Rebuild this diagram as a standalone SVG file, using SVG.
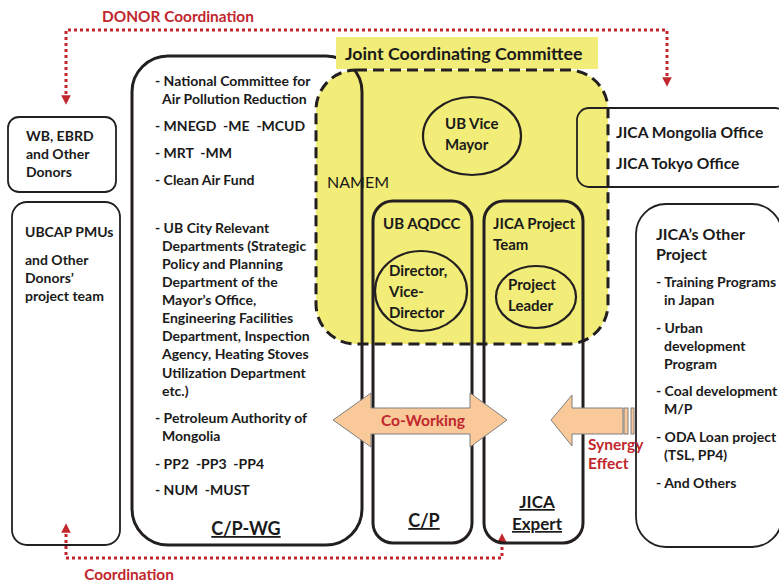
<svg xmlns="http://www.w3.org/2000/svg" width="779" height="584" viewBox="0 0 779 584">
<style>
text{font-family:Lato,"Liberation Sans",sans-serif;font-weight:bold;fill:#1a1a1a;font-size:14px;white-space:pre}
.red{fill:#c1272d}
.thin{fill:none;stroke:#231f20;stroke-width:1.8}
.thick{fill:none;stroke:#231f20;stroke-width:3}
.dot{fill:none;stroke:#c1272d;stroke-width:3;stroke-dasharray:3 3}
.ell{fill:none;stroke:#231f20;stroke-width:2.2}
.arr{fill:#f9c99a;stroke:#7f7f7f;stroke-width:1}
.ul{text-decoration:underline}
.m{font-size:15px}
</style>
<defs>
<marker id="ah" viewBox="0 0 10 10" refX="5" refY="5" markerWidth="3.2" markerHeight="3.2" orient="auto"><path d="M0,0L10,5L0,10z" fill="#c1272d"/></marker>
<marker id="ahs" viewBox="0 0 10 10" refX="5" refY="5" markerWidth="3.2" markerHeight="3.2" orient="auto-start-reverse"><path d="M0,0L10,5L0,10z" fill="#c1272d"/></marker>
</defs>
<g id="jcc-area">
<rect x="316" y="70" width="292" height="274" rx="40" fill="#f2ec78"/>
</g>
<g id="connectors">
<path class="dot" d="M66,100V30H667V82" marker-start="url(#ahs)" marker-end="url(#ah)"/>
<path class="dot" d="M66,528V558H502V538" marker-start="url(#ahs)" marker-end="url(#ah)"/>
</g>
<g id="wb">
<rect class="thin" x="8" y="117" width="108" height="75" rx="11"/>
<text x="26" y="141">WB, EBRD</text>
<text x="26" y="159">and Other</text>
<text x="26" y="177">Donors</text>
</g>
<g id="ubcap">
<rect class="thin" x="12" y="202" width="108" height="343" rx="15"/>
<text x="25" y="237">UBCAP PMUs</text>
<text x="25" y="265">and Other</text>
<text x="25" y="283">Donors’</text>
<text x="25" y="301">project team</text>
</g>
<g id="cpwg">
<rect class="thick" x="132" y="56" width="230" height="489" rx="36"/>
<text x="155" y="86">- National Committee for</text>
<text x="162" y="104">Air Pollution Reduction</text>
<text x="155" y="131">- MNEGD  -ME  -MCUD</text>
<text x="155" y="158">- MRT  -MM</text>
<text x="155" y="185">- Clean Air Fund</text>
<text x="155" y="233">- UB City Relevant</text>
<text x="162" y="251">Departments (Strategic</text>
<text x="162" y="269">Policy and Planning</text>
<text x="162" y="287">Department of the</text>
<text x="162" y="305">Mayor’s Office,</text>
<text x="162" y="323">Engineering Facilities</text>
<text x="162" y="341">Department, Inspection</text>
<text x="162" y="359">Agency, Heating Stoves</text>
<text x="162" y="378">Utilization Department</text>
<text x="162" y="396">etc.)</text>
<text x="155" y="423">- Petroleum Authority of</text>
<text x="162" y="441">Mongolia</text>
<text x="155" y="469">- PP2  -PP3  -PP4</text>
<text x="155" y="495">- NUM  -MUST</text>
<text class="ul" x="246" y="535" text-anchor="middle" style="font-size:18px">C/P-WG</text>
</g>
<g id="jcc">
<rect x="336" y="37" width="262" height="32" fill="#f2ec78"/>
<text x="345" y="60" style="font-size:17.8px">Joint Coordinating Committee</text>
<rect x="316" y="70" width="292" height="274" rx="40" fill="none" stroke="#231f20" stroke-width="3" stroke-dasharray="11 6"/>
<text x="327" y="188" style="font-weight:normal;font-size:16px">NAMEM</text>
</g>
<g id="vicemayor">
<ellipse class="ell" cx="472" cy="136" rx="49" ry="39"/>
<text class="m" x="445" y="129">UB Vice</text>
<text class="m" x="445" y="150">Mayor</text>
</g>
<g id="jica-office">
<rect class="thin" x="577" y="108" width="210" height="79" rx="12"/>
<text x="616" y="138" style="font-size:15.6px">JICA Mongolia Office</text>
<text x="616" y="169" style="font-size:15.6px">JICA Tokyo Office</text>
</g>
<g id="aqdcc">
<rect class="thick" x="373" y="201" width="99" height="342" rx="20"/>
<text class="m" x="383" y="229">UB AQDCC</text>
<text class="ul" x="424" y="527" text-anchor="middle" style="font-size:18px">C/P</text>
</g>
<g id="director">
<ellipse class="ell" cx="421" cy="291" rx="46" ry="40"/>
<text class="m" x="389" y="276">Director,</text>
<text class="m" x="389" y="297">Vice-</text>
<text class="m" x="389" y="318">Director</text>
</g>
<g id="jica-team">
<rect class="thick" x="484" y="201" width="99" height="342" rx="20"/>
<text class="m" x="493" y="229">JICA Project</text>
<text class="m" x="493" y="250">Team</text>
<text class="ul" x="537" y="508" text-anchor="middle" style="font-size:17px">JICA</text>
<text class="ul" x="537" y="530" text-anchor="middle" style="font-size:17px">Expert</text>
</g>
<g id="leader">
<ellipse class="ell" cx="536" cy="297" rx="40" ry="31"/>
<text class="m" x="508" y="290">Project</text>
<text class="m" x="508" y="311">Leader</text>
</g>
<g id="other">
<rect class="thin" x="636" y="204" width="146" height="343" rx="30"/>
<text x="656" y="240" style="font-size:16px">JICA’s Other</text>
<text x="656" y="260" style="font-size:16px">Project</text>
<text x="656" y="287">- Training Programs</text>
<text x="664" y="305">in Japan</text>
<text x="656" y="333">- Urban</text>
<text x="664" y="351">development</text>
<text x="664" y="369">Program</text>
<text x="656" y="396">- Coal development</text>
<text x="664" y="414">M/P</text>
<text x="656" y="442">- ODA Loan project</text>
<text x="664" y="460">(TSL, PP4)</text>
<text x="656" y="488">- And Others</text>
</g>
<g id="arrows">
<path class="arr" d="M333,420L371,393V408H470V393L507,420L470,447V434H371V447Z"/>
<path class="arr" d="M551,420L572,395V408H623V434H572V446Z"/>
<rect class="arr" x="624" y="408" width="4" height="26"/>
<rect class="arr" x="631" y="408" width="3" height="26"/>
</g>
<g id="labels">
<text class="red" x="178" y="22" text-anchor="middle" style="font-size:15.4px">DONOR Coordination</text>
<text class="red" x="129" y="580" text-anchor="middle" style="font-size:15.4px">Coordination</text>
<text class="red" x="423" y="426" text-anchor="middle" style="font-size:15.6px">Co-Working</text>
<text class="red" x="588" y="450" style="font-size:15.5px">Synergy</text>
<text class="red" x="588" y="469" style="font-size:15.5px">Effect</text>
</g>
</svg>
